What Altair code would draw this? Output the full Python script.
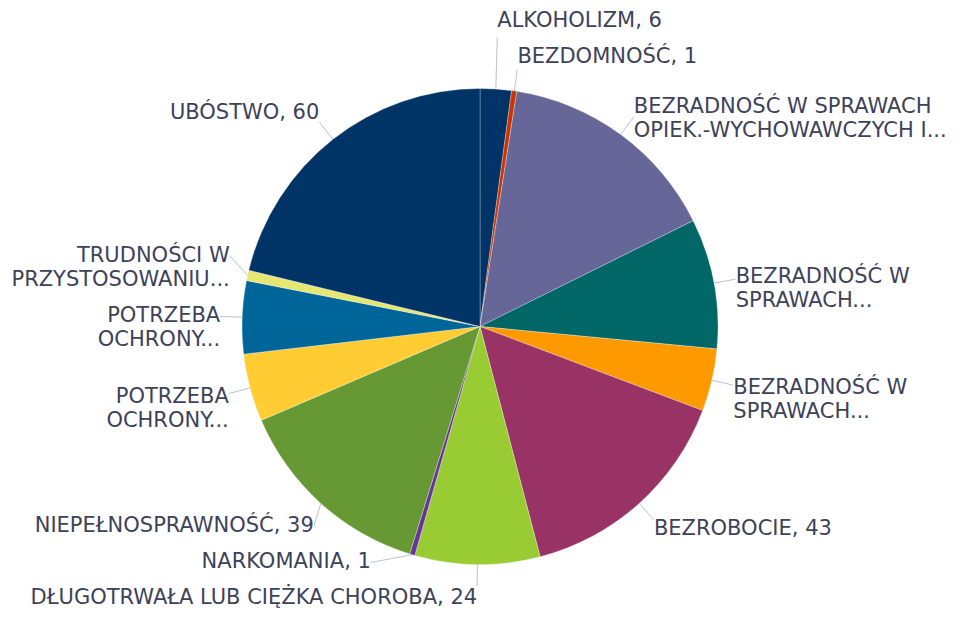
import math
import altair as alt
import pandas as pd

# ---- data ----
labels = [
    "ALKOHOLIZM, 6",
    "BEZDOMNOŚĆ, 1",
    "BEZRADNOŚĆ W SPRAWACH\nOPIEK.-WYCHOWAWCZYCH I...",
    "BEZRADNOŚĆ W\nSPRAWACH...",
    "BEZRADNOŚĆ W\nSPRAWACH...",
    "BEZROBOCIE, 43",
    "DŁUGOTRWAŁA LUB CIĘŻKA CHOROBA, 24",
    "NARKOMANIA, 1",
    "NIEPEŁNOSPRAWNOŚĆ, 39",
    "POTRZEBA\nOCHRONY...",
    "POTRZEBA\nOCHRONY...",
    "TRUDNOŚCI W\nPRZYSTOSOWANIU...",
    "UBÓSTWO, 60",
]
values = [6, 1, 43, 25, 12, 43, 24, 1, 39, 13, 14, 2, 60]
colors = ["#003366", "#cc3300", "#666699", "#006666", "#ff9900", "#993366",
          "#99cc33", "#663399", "#669933", "#ffcc33", "#006699", "#e6e673",
          "#003366"]

# ---- layout constants ----
W, H = 945, 602
CX, CY = 472, 318.5
R = 238
LA = 22      # leader length
LH = 24      # text line height
GAP = 12     # min gap between label boxes
FONT = "DejaVu Sans"
FS = 21
TEXT_COLOR = "#3e4259"
LINE_COLOR = "#b8c2d3"

# ---- compute label positions from slice angles ----
tot = sum(values)
cum = [0]
for v in values:
    cum.append(cum[-1] + v)
rows = []
for i, (lab, v) in enumerate(zip(labels, values)):
    mid = (cum[i] + cum[i + 1]) / 2 / tot * 2 * math.pi
    s, c = math.sin(mid), math.cos(mid)
    n = lab.count("\n") + 1
    h = n * LH
    ax, ay = CX + (R + LA) * s, CY - (R + LA) * c
    ex, ey = CX + R * s, CY - R * c
    rows.append(dict(idx=i, label=lab, value=v, s=s, c=c, h=h, ax=ax, ay=ay,
                     ex=ex, ey=ey, y0=ay - c * LH / 2,
                     side="R" if s >= 0 else "L"))

for side in ("R", "L"):
    grp = sorted([r for r in rows if r["side"] == side], key=lambda r: r["y0"])
    for r in grp:
        r["orig"] = r["y0"]
    for k in range(len(grp) - 2, -1, -1):
        lim = grp[k + 1]["y0"] - (grp[k + 1]["h"] / 2 + GAP + grp[k]["h"] / 2)
        if grp[k]["y0"] > lim:
            grp[k]["y0"] = lim

for r in rows:
    sign = 1 if r["side"] == "R" else -1
    if abs(r["y0"] - r["orig"]) > 0.5:
        dy = r["y0"] - CY
        if abs(dy) < R + LA - 5:
            r["px"] = CX + sign * math.sqrt((R + LA) ** 2 - dy ** 2)
            r["py"] = r["y0"]
        else:
            r["px"] = r["ax"]
            r["py"] = r["y0"] + (r["h"] / 2 + 4) * (1 if dy < 0 else -1)
    else:
        r["px"], r["py"] = r["ax"], r["ay"]
    r["tx"] = r["px"]

df = pd.DataFrame(rows)

xs = alt.Scale(domain=[0, W], nice=False, zero=False)
ys = alt.Scale(domain=[H, 0], nice=False, zero=False)

arcs = alt.Chart(df).mark_arc(radius=R, stroke="white", strokeWidth=0.3).encode(
    theta=alt.Theta("value:Q", stack=True),
    order=alt.Order("idx:Q"),
    color=alt.Color("idx:O", scale=alt.Scale(domain=list(range(len(values))), range=colors), legend=None),
    x=alt.value(CX),
    y=alt.value(CY),
)

leaders = alt.Chart(df).mark_rule(color=LINE_COLOR, strokeWidth=1).encode(
    x=alt.X("ex:Q", scale=xs, axis=None),
    y=alt.Y("ey:Q", scale=ys, axis=None),
    x2="px:Q",
    y2="py:Q",
)

def text_layer(side, align):
    return alt.Chart(df).transform_filter(alt.datum.side == side).mark_text(
        align=align, baseline="middle", font=FONT, fontSize=FS,
        color=TEXT_COLOR, lineBreak="\n", lineHeight=LH,
    ).encode(
        x=alt.X("tx:Q", scale=xs, axis=None),
        y=alt.Y("y0:Q", scale=ys, axis=None),
        text="label:N",
    )

chart = alt.layer(leaders, arcs, text_layer("R", "left"), text_layer("L", "right")).properties(
    width=W, height=H, padding=0, background="white",
    autosize=alt.AutoSizeParams(type="none"),
).configure_view(strokeWidth=0, stroke="transparent")

chart.save("out.html", embed_options={"renderer": "svg", "actions": False})
